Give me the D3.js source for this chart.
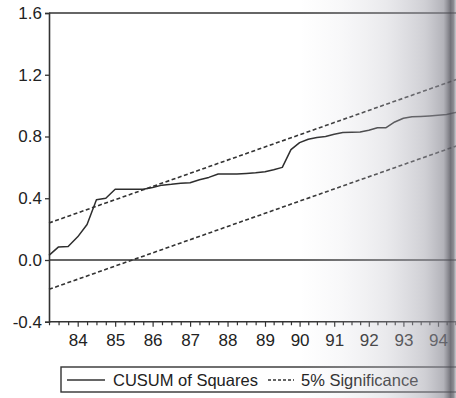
<!DOCTYPE html>
<html>
<head>
<meta charset="utf-8">
<script src="https://cdn.jsdelivr.net/npm/d3@7/dist/d3.min.js"></script>
<style>
  html, body { margin: 0; padding: 0; background: #ffffff; }
  svg { display: block; font-family: Arial, "Liberation Sans", sans-serif; }
</style>
</head>
<body>
<svg id="chart" width="456" height="398"></svg>
<script>
// ---- data ----
// quarterly observations, 1983Q2 .. 1994Q4 (time as fractional year)
const startTime = 1983.25;
const cusumSq = [
  0.03, 0.085, 0.087, 0.15, 0.23, 0.39, 0.40, 0.458, 0.458, 0.458,
  0.458, 0.47, 0.485, 0.49, 0.497, 0.50, 0.52, 0.535, 0.557, 0.557,
  0.557, 0.561, 0.565, 0.572, 0.585, 0.60, 0.715, 0.76, 0.782, 0.793,
  0.80, 0.815, 0.826, 0.827, 0.829, 0.84, 0.857, 0.857, 0.894, 0.918,
  0.928, 0.93, 0.933, 0.937, 0.942, 0.955, 0.97
];
// 5% significance bounds (straight lines: first and last observation)
const upperBound = [0.24, 1.186];
const lowerBound = [-0.19, 0.756];
const yTicks = [-0.4, 0.0, 0.4, 0.8, 1.2, 1.6];
const yearTicks = [1984, 1985, 1986, 1987, 1988, 1989, 1990, 1991, 1992, 1993, 1994];
const yearLabels = ["84", "85", "86", "87", "88", "89", "90", "91", "92", "93", "94"];
const legendItems = ["CUSUM of Squares", "5% Significance"];

(function () {
// ---- layout ----
const svg = d3.select("#chart");
const pLeft = 49, pTop = 13, pBottom = 321.75, pRight = 475;
const ink = "#333";

const times = cusumSq.map((_, i) => startTime + i * 0.25);
const endTime = times[times.length - 1];

// scanned page is slightly non-uniform horizontally: piecewise-linear time scale
const x = d3.scaleLinear()
  .domain([1983.25, 1984, 1989, 1994])
  .range([49, 77.7, 265, 438]);
const y = d3.scaleLinear().domain([-0.4, 1.6]).range([pBottom, pTop]);

// frame: top line, zero line
svg.append("line").attr("x1", pLeft).attr("x2", pRight).attr("y1", y(1.6)).attr("y2", y(1.6))
  .attr("stroke", ink).attr("stroke-width", 1.6);
svg.append("line").attr("x1", pLeft).attr("x2", pRight).attr("y1", y(0)).attr("y2", y(0))
  .attr("stroke", ink).attr("stroke-width", 1.5);

// y axis
const yAxis = svg.append("g").attr("transform", `translate(${pLeft},0)`)
  .call(d3.axisLeft(y).tickValues(yTicks).tickFormat(d => d3.format(".1f")(d).replace("\u2212", "-"))
    .tickSize(4).tickPadding(3));
yAxis.select(".domain").attr("stroke", ink).attr("stroke-width", 1.6);
yAxis.selectAll(".tick line").attr("stroke", ink).attr("stroke-width", 1.3);
yAxis.selectAll(".tick text").attr("font-size", 17).attr("fill", "#222")
  .attr("font-family", "Arial, 'Liberation Sans', sans-serif");

// x axis
svg.append("line").attr("x1", pLeft).attr("x2", pRight).attr("y1", pBottom).attr("y2", pBottom)
  .attr("stroke", ink).attr("stroke-width", 1.6);
const quarterTicks = d3.range(1983.25, 1995.01, 0.25);
const xAxis = svg.append("g").attr("transform", `translate(0,${pBottom})`)
  .call(d3.axisBottom(x).tickValues(quarterTicks).tickSize(4).tickFormat(""));
xAxis.select(".domain").remove();
xAxis.selectAll(".tick line").attr("stroke", ink).attr("stroke-width", 1.2)
  .attr("y2", d => (Math.abs(d - Math.round(d)) < 1e-6 ? 5 : 3.5));
const xLab = svg.append("g").attr("transform", `translate(0,${pBottom})`)
  .call(d3.axisBottom(x).tickValues(yearTicks).tickSize(0).tickPadding(12)
    .tickFormat((d, i) => yearLabels[i]));
xLab.select(".domain").remove();
xLab.selectAll(".tick text").attr("font-size", 17).attr("fill", "#222")
  .attr("font-family", "Arial, 'Liberation Sans', sans-serif");

// significance bounds
const lineGen = d3.line().x(d => x(d.t)).y(d => y(d.v));
[upperBound, lowerBound].forEach(b => {
  svg.append("path")
    .datum([{ t: startTime, v: b[0] }, { t: endTime, v: b[1] }])
    .attr("d", lineGen).attr("fill", "none")
    .attr("stroke", ink).attr("stroke-width", 1.6).attr("stroke-dasharray", "4,2.5");
});

// CUSUM of squares
svg.append("path")
  .datum(cusumSq.map((v, i) => ({ t: times[i], v })))
  .attr("d", lineGen).attr("fill", "none")
  .attr("stroke", "#2e2e2e").attr("stroke-width", 1.5).attr("stroke-linejoin", "round");

// legend
const lg = svg.append("g");
lg.append("rect").attr("x", 61).attr("y", 367).attr("width", 420).attr("height", 25)
  .attr("fill", "none").attr("stroke", ink).attr("stroke-width", 1.4);
lg.append("line").attr("x1", 67).attr("x2", 105).attr("y1", 380).attr("y2", 380)
  .attr("stroke", ink).attr("stroke-width", 1.5);
lg.append("text").attr("x", 113).attr("y", 386).attr("font-size", 16.5).attr("fill", "#222")
  .text(legendItems[0]);
lg.append("line").attr("x1", 268).attr("x2", 294).attr("y1", 380).attr("y2", 380)
  .attr("stroke", ink).attr("stroke-width", 1.5).attr("stroke-dasharray", "3,2");
lg.append("text").attr("x", 301).attr("y", 386).attr("font-size", 16.5).attr("fill", "#222")
  .text(legendItems[1]);

// scan shading at the right edge (page curvature)
const defs = svg.append("defs");
const grad = defs.append("linearGradient").attr("id", "shade")
  .attr("gradientUnits", "userSpaceOnUse").attr("x1", 300).attr("x2", 456).attr("y1", 0).attr("y2", 0);
[[0, "#c8c8d2", 0], [0.25, "#c8c8d2", 0.12], [0.55, "#b8b8c2", 0.3], [0.8, "#a0a0aa", 0.5],
 [0.92, "#8a8a94", 0.65], [0.965, "#5a5a62", 0.85], [0.985, "#707078", 0.8], [1, "#a8a8b0", 0.6]]
  .forEach(s => grad.append("stop").attr("offset", s[0]).attr("stop-color", s[1]).attr("stop-opacity", s[2]));
svg.append("rect").attr("x", 300).attr("y", 0).attr("width", 156).attr("height", 398)
  .attr("fill", "url(#shade)").attr("pointer-events", "none");
})();
</script>
</body>
</html>
